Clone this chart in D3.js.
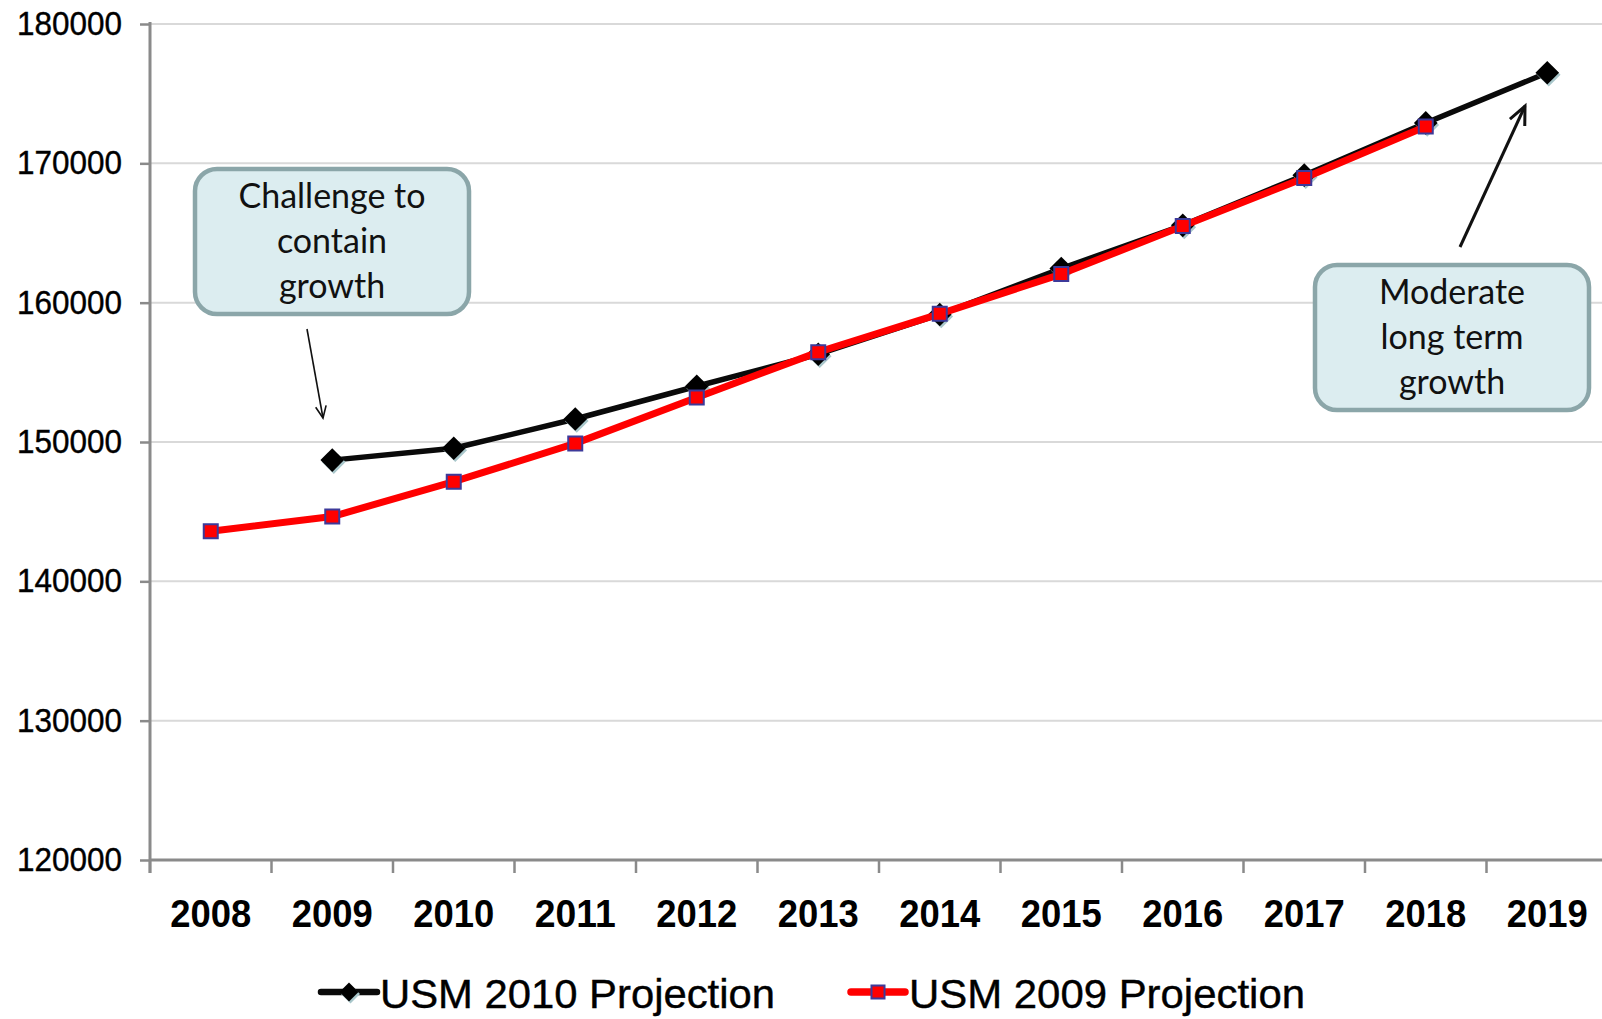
<!DOCTYPE html>
<html>
<head>
<meta charset="utf-8">
<script src="https://cdn.jsdelivr.net/npm/d3@7"></script>
<style>
  html, body { margin: 0; padding: 0; background: #fff; overflow: hidden; }
  svg { display: block; }
</style>
</head>
<body>
<svg id="chart" width="1602" height="1019"></svg>
<script>
// Enrolment projections, USM
const years = ["2008", "2009", "2010", "2011", "2012", "2013", "2014", "2015", "2016", "2017", "2018", "2019"];
const usm2010 = [null, 148700, 149550, 151650, 154000, 156300, 159150, 162450, 165550, 169150, 172900, 176500];
const usm2009 = [143600, 144650, 147150, 149900, 153200, 156450, 159200, 162050, 165500, 168950, 172650, null];
const yTicks = [120000, 130000, 140000, 150000, 160000, 170000, 180000];
const seriesNames = ["USM 2010 Projection", "USM 2009 Projection"];
const noteLeft = ["Challenge to", "contain", "growth"];
const noteRight = ["Moderate", "long term", "growth"];

const W = 1602, H = 1019;
const svg = d3.select("#chart");

const x = d3.scaleBand().domain(years).range([150, 150 + 12 * 121.5]);
const y = d3.scaleLinear().domain([120000, 180000]).range([860, 24]);
const cx = d => x(d) + x.bandwidth() / 2;

const AXIS = "#8a8a8a";

// horizontal gridlines
svg.append("g").selectAll("line")
  .data(yTicks.filter(t => t > 120000))
  .join("line")
  .attr("x1", 150).attr("x2", W)
  .attr("y1", d => y(d)).attr("y2", d => y(d))
  .attr("stroke", "#d9d9d9").attr("stroke-width", 2);

// y axis
const yAxis = svg.append("g").attr("transform", "translate(150,0)")
  .call(d3.axisLeft(y).tickValues(yTicks).tickSize(10).tickSizeOuter(0).tickPadding(18)
    .tickFormat(d3.format("d")));
yAxis.select(".domain").remove();
yAxis.selectAll(".tick line").attr("stroke", AXIS).attr("stroke-width", 2.5);
yAxis.selectAll(".tick text")
  .attr("fill", "#000")
  .style("font-family", "'Liberation Sans', Arial, sans-serif")
  .style("font-size", "33px")
  .attr("textLength", 105).attr("lengthAdjust", "spacingAndGlyphs")
  .attr("stroke", "#000").attr("stroke-width", 0.4);

// x axis: labels centred in each band, ticks on band boundaries
const xAxis = svg.append("g").attr("transform", "translate(0,860)")
  .call(d3.axisBottom(x).tickSize(0).tickPadding(39));
xAxis.select(".domain").remove();
xAxis.selectAll(".tick text")
  .attr("fill", "#000")
  .style("font-family", "'Liberation Sans', Arial, sans-serif")
  .style("font-size", "39px").style("font-weight", "bold")
  .attr("textLength", 81).attr("lengthAdjust", "spacingAndGlyphs");

svg.append("g").selectAll("line")
  .data(years)
  .join("line")
  .attr("x1", d => x(d)).attr("x2", d => x(d))
  .attr("y1", 860).attr("y2", 873)
  .attr("stroke", AXIS).attr("stroke-width", 2.5);

svg.append("line").attr("x1", 150).attr("x2", W).attr("y1", 860).attr("y2", 860)
  .attr("stroke", AXIS).attr("stroke-width", 3);
svg.append("line").attr("x1", 150).attr("x2", 150).attr("y1", 22).attr("y2", 873)
  .attr("stroke", AXIS).attr("stroke-width", 3);

// series
const toPoints = vals => years.map((yr, i) => ({ year: yr, v: vals[i] })).filter(d => d.v != null);
const pts2010 = toPoints(usm2010);
const pts2009 = toPoints(usm2009);
const line = d3.line().x(d => cx(d.year)).y(d => y(d.v));

const diamond = d3.symbol().type(d3.symbolSquare).size(280);
const square = d3.symbol().type(d3.symbolSquare).size(196);

// USM 2010 (black, diamonds)
svg.append("path").datum(pts2010).attr("d", line)
  .attr("fill", "none").attr("stroke", "#0a0a0a").attr("stroke-width", 5.5)
  .attr("stroke-linejoin", "round");
const g10 = svg.append("g");
g10.selectAll("path.shadow").data(pts2010).join("path").attr("class", "shadow")
  .attr("d", diamond)
  .attr("transform", d => `translate(${cx(d.year) + 1.5},${y(d.v) + 2}) rotate(45)`)
  .attr("fill", "#a9c7cb");
g10.selectAll("path.mark").data(pts2010).join("path").attr("class", "mark")
  .attr("d", diamond)
  .attr("transform", d => `translate(${cx(d.year)},${y(d.v)}) rotate(45)`)
  .attr("fill", "#000");

// USM 2009 (red, squares)
svg.append("path").datum(pts2009).attr("d", line)
  .attr("fill", "none").attr("stroke", "#ff0000").attr("stroke-width", 7)
  .attr("stroke-linejoin", "round");
svg.append("g").selectAll("path").data(pts2009).join("path")
  .attr("d", square)
  .attr("transform", d => `translate(${cx(d.year)},${y(d.v)})`)
  .attr("fill", "#ff0000").attr("stroke", "#3d3a9a").attr("stroke-width", 2);

// legend
const legendFont = "'Liberation Sans', Arial, sans-serif";
const lg = svg.append("g");
const legendItems = [
  { name: seriesNames[0], x0: 321, x1: 377, text: 380, len: 395, color: "#0a0a0a", kind: "diamond" },
  { name: seriesNames[1], x0: 851, x1: 905, text: 909, len: 396, color: "#ff0000", kind: "square" }
];
const LY = 992;
legendItems.forEach(it => {
  lg.append("line").attr("x1", it.x0).attr("x2", it.x1).attr("y1", LY).attr("y2", LY)
    .attr("stroke", it.color).attr("stroke-width", it.kind === "square" ? 7.5 : 6.5)
    .attr("stroke-linecap", "round");
  const mx = (it.x0 + it.x1) / 2;
  if (it.kind === "diamond") {
    lg.append("path").attr("d", d3.symbol().type(d3.symbolSquare).size(180)())
      .attr("transform", `translate(${mx + 1.5},${LY + 2}) rotate(45)`).attr("fill", "#a9c7cb");
    lg.append("path").attr("d", d3.symbol().type(d3.symbolSquare).size(180)())
      .attr("transform", `translate(${mx},${LY}) rotate(45)`).attr("fill", "#000");
  } else {
    lg.append("path").attr("d", d3.symbol().type(d3.symbolSquare).size(170)())
      .attr("transform", `translate(${mx},${LY})`)
      .attr("fill", "#ff0000").attr("stroke", "#3d3a9a").attr("stroke-width", 2);
  }
  lg.append("text").attr("x", it.text).attr("y", 1008)
    .attr("fill", "#000").attr("stroke", "#000").attr("stroke-width", 0.4)
    .style("font-family", legendFont).style("font-size", "41px")
    .attr("textLength", it.len).attr("lengthAdjust", "spacingAndGlyphs")
    .text(it.name);
});

// callout boxes
function callout(bx, by, lines) {
  const g = svg.append("g");
  g.append("rect").attr("x", bx).attr("y", by).attr("width", 274).attr("height", 145)
    .attr("rx", 22).attr("ry", 22)
    .attr("fill", "#dcedf0").attr("stroke", "#8ba6a9").attr("stroke-width", 4.5);
  lines.forEach((t, i) => {
    g.append("text").attr("x", bx + 137).attr("y", by + 39 + i * 45)
      .attr("text-anchor", "middle").attr("fill", "#111")
      .style("font-family", "Lato, 'Open Sans', sans-serif").style("font-size", "34px")
      .text(t);
  });
}
callout(195, 169, noteLeft);
callout(1315, 265, noteRight);

// callout arrows with open heads
function arrow(x1, y1, x2, y2, w, head) {
  const a = Math.atan2(y2 - y1, x2 - x1);
  const spread = 0.42;
  const p1 = [x2 - head * Math.cos(a - spread), y2 - head * Math.sin(a - spread)];
  const p2 = [x2 - head * Math.cos(a + spread), y2 - head * Math.sin(a + spread)];
  svg.append("line").attr("x1", x1).attr("y1", y1).attr("x2", x2).attr("y2", y2)
    .attr("stroke", "#111").attr("stroke-width", w);
  svg.append("path").attr("d", `M${p1[0]},${p1[1]}L${x2},${y2}L${p2[0]},${p2[1]}`)
    .attr("fill", "none").attr("stroke", "#111").attr("stroke-width", w)
    .attr("stroke-linejoin", "miter");
}
arrow(307, 329, 323, 418, 1.6, 13);
arrow(1460, 247, 1525, 106, 3, 20);
</script>
</body>
</html>
